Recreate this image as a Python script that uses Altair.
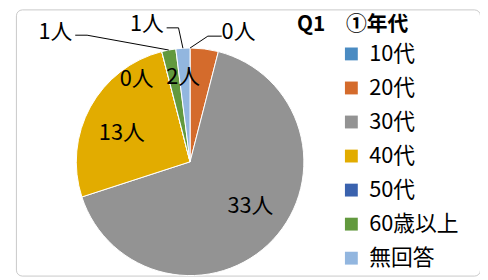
import math
import altair as alt
import pandas as pd

# ---- data ----
categories = ["10代", "20代", "30代", "40代", "50代", "60歳以上", "無回答"]
counts = [0, 2, 33, 13, 0, 1, 1]
colors = ["#4A8BC2", "#D46B2C", "#939393", "#E2AC00", "#3A62AE", "#62993E", "#92B6DF"]
title_text = "Q1\u3000①年代"
unit = "人"

# ---- layout / style ----
W, H = 469, 269          # plot area (frame)
R = 115                  # pie radius (px)
CX, CY = 176, 154        # pie centre inside plot area (px)
FONT = "Noto Sans CJK JP"
FS = 22

# label placement: (angular offset from slice mid in deg, radius as fraction of R)
label_place = {
    "10代": (20.5, 1.216),
    "20代": (-11.9, 0.75),
    "30代": (-6.8, 0.659),
    "40代": (-6.0, 0.651),
    "50代": (-18.4, 0.868),
    "60歳以上": (-35.3, 1.642),
    "無回答": (-13.8, 1.27),
}
# leader lines: (end dx px from label centre, end dy px, elbow horizontal length px)
leaders = {
    "10代": (-17, 4, -14),
    "無回答": (20, 4, 12),
    "60歳以上": (20, 3, 12),
}

total = sum(counts)
df = pd.DataFrame({"category": categories, "count": counts, "order": list(range(len(categories)))})

mids = {}
cum = 0
for c, n in zip(categories, counts):
    mids[c] = (cum + n / 2) / total * 360
    cum += n

lab_rows = []
line_rows = []
for c, n in zip(categories, counts):
    off, rr = label_place[c]
    a = math.radians(mids[c] + off)
    lx, ly = rr * math.sin(a), rr * math.cos(a)
    lab_rows.append({"category": c, "text": f"{n}{unit}", "x": lx, "y": ly})
    if c in leaders:
        ex, ey, el = leaders[c]
        m = math.radians(mids[c])
        sx, sy = math.sin(m), math.cos(m)
        endx, endy = lx + ex / R, ly - ey / R
        elx, ely = endx + el / R, endy
        line_rows += [
            {"category": c, "i": 0, "x": sx, "y": sy},
            {"category": c, "i": 1, "x": elx, "y": ely},
            {"category": c, "i": 2, "x": endx, "y": endy},
        ]
lab_df = pd.DataFrame(lab_rows)
line_df = pd.DataFrame(line_rows)
title_df = pd.DataFrame({"t": [title_text]})

xs = alt.Scale(domain=[-CX / R, (W - CX) / R], nice=False, zero=False)
ys = alt.Scale(domain=[-(H - CY) / R, CY / R], nice=False, zero=False)

pie = alt.Chart(df).mark_arc(outerRadius=R, stroke="white", strokeWidth=1).encode(
    theta=alt.Theta("count:Q", stack=True),
    order=alt.Order("order:Q"),
    x=alt.value(CX),
    y=alt.value(CY),
    color=alt.Color(
        "category:N",
        scale=alt.Scale(domain=categories, range=colors),
        sort=categories,
        legend=alt.Legend(
            title=None,
            orient="none",
            legendX=328,
            legendY=34,
            symbolType="square",
            symbolSize=169,
            symbolStrokeWidth=0,
            labelFontSize=FS,
            labelFont=FONT,
            labelColor="#000000",
            labelOffset=7,
            rowPadding=12.4,
            padding=0,
        ),
    ),
)

lines = alt.Chart(line_df).mark_line(color="black", strokeWidth=1).encode(
    x=alt.X("x:Q", scale=xs, axis=None),
    y=alt.Y("y:Q", scale=ys, axis=None),
    detail="category:N",
    order="i:Q",
)

labels = alt.Chart(lab_df).mark_text(
    fontSize=FS, font=FONT, color="black", baseline="middle", align="center"
).encode(
    x=alt.X("x:Q", scale=xs, axis=None),
    y=alt.Y("y:Q", scale=ys, axis=None),
    text="text:N",
)

title = alt.Chart(title_df).mark_text(
    fontSize=21, font=FONT, fontWeight="bold", color="black", baseline="middle", align="left"
).encode(
    x=alt.value(284),
    y=alt.value(16),
    text="t:N",
)

chart = (
    alt.layer(pie, lines, labels, title)
    .properties(
        width=W,
        height=H,
        autosize=alt.AutoSizeParams(type="none"),
        padding={"left": 8, "top": 0, "right": 0, "bottom": 0},
    )
    .configure_view(stroke="#C8C8C8", strokeWidth=1, cornerRadius=6, fill="white")
)

chart.save("out.html", embed_options={"renderer": "svg", "actions": False})
